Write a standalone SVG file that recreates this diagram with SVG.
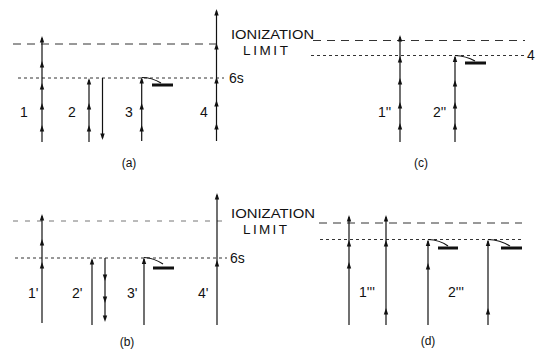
<svg xmlns="http://www.w3.org/2000/svg" xmlns:xlink="http://www.w3.org/1999/xlink" width="536" height="349" viewBox="0 0 536 349">
<style>
.ln{stroke:#111;stroke-width:1.2;fill:none}
.ion{stroke:#333;stroke-width:1;stroke-dasharray:8 6;fill:none}
.ion2{stroke:#777;stroke-width:1;stroke-dasharray:5 7;fill:none}
.lev{stroke:#333;stroke-width:1;stroke-dasharray:3 3;fill:none}
.kink{stroke:#111;stroke-width:1.2;fill:none}
.bar{fill:#111}
.lbl{font-family:"Liberation Sans",Arial,sans-serif;font-size:14px;fill:#111}
.cap{font-family:"Liberation Sans",Arial,sans-serif;font-size:12px;fill:#111;text-anchor:middle}
.big{font-family:"Liberation Sans",Arial,sans-serif;font-size:13.5px;fill:#111}
</style>
<defs>
<path id="up" d="M0,0 L-2.2,6.5 L2.2,6.5Z" fill="#111"/>
<path id="dn" d="M0,0 L-2.2,-6.5 L2.2,-6.5Z" fill="#111"/>
</defs>
<rect width="536" height="349" fill="#fff"/>

<!-- energy levels -->
<g id="levels-a">
<line class="ion" x1="13" y1="44" x2="218" y2="44"/>
<line class="lev" x1="18" y1="78" x2="224" y2="78"/>
</g>
<g id="levels-c">
<line class="ion" x1="313" y1="40.5" x2="525" y2="40.5"/>
<line class="lev" x1="311" y1="55.5" x2="524" y2="55.5"/>
</g>
<g id="levels-b">
<line class="ion2" x1="13" y1="221" x2="222" y2="221"/>
<line class="lev" x1="15" y1="258" x2="227" y2="258"/>
</g>
<g id="levels-d">
<line class="ion" x1="319" y1="223" x2="522" y2="223"/>
<line class="lev" x1="320" y1="239.5" x2="522" y2="239.5"/>
</g>

<!-- connectors: photon arrows -->
<g id="connectors">
<!-- (a) -->
<g id="arrow-1">
<line class="ln" x1="42" y1="142" x2="42" y2="38"/>
<use xlink:href="#up" x="42" y="36"/><use xlink:href="#up" x="42" y="61"/><use xlink:href="#up" x="42" y="83"/><use xlink:href="#up" x="42" y="103"/><use xlink:href="#up" x="42" y="125"/>
</g>
<g id="arrow-2">
<line class="ln" x1="89" y1="142" x2="89" y2="80"/>
<use xlink:href="#up" x="89" y="78"/><use xlink:href="#up" x="89" y="103"/><use xlink:href="#up" x="89" y="125"/>
<line class="ln" x1="102.5" y1="78" x2="102.5" y2="138"/>
<use xlink:href="#dn" x="102.5" y="140"/>
</g>
<g id="arrow-3">
<line class="ln" x1="141.7" y1="141" x2="141.7" y2="79"/>
<use xlink:href="#up" x="141.7" y="77"/><use xlink:href="#up" x="141.7" y="103"/><use xlink:href="#up" x="141.7" y="125"/>
<path class="kink" d="M141.7,77.5 Q152,77.5 161,83"/>
<rect class="bar" x="152" y="83.5" width="21" height="3"/>
</g>
<g id="arrow-4">
<line class="ln" x1="216.5" y1="141" x2="216.5" y2="11"/>
<use xlink:href="#up" x="216.5" y="9"/><use xlink:href="#up" x="216.5" y="43"/><use xlink:href="#up" x="216.5" y="77"/><use xlink:href="#up" x="216.5" y="100"/><use xlink:href="#up" x="216.5" y="123"/>
</g>
<!-- (c) -->
<g id="arrow-1pp">
<line class="ln" x1="400" y1="142" x2="400" y2="37"/>
<use xlink:href="#up" x="400" y="35"/><use xlink:href="#up" x="400" y="56"/><use xlink:href="#up" x="400" y="78"/><use xlink:href="#up" x="400" y="102"/><use xlink:href="#up" x="400" y="123"/>
</g>
<g id="arrow-2pp">
<line class="ln" x1="455" y1="142" x2="455" y2="57"/>
<use xlink:href="#up" x="455" y="55.5"/><use xlink:href="#up" x="455" y="80"/><use xlink:href="#up" x="455" y="102"/><use xlink:href="#up" x="455" y="123"/>
<path class="kink" d="M455,55.5 Q466,56 475,61"/>
<rect class="bar" x="465" y="61.5" width="21" height="3"/>
</g>
<!-- (b) -->
<g id="arrow-1p">
<line class="ln" x1="42" y1="323" x2="42" y2="216"/>
<use xlink:href="#up" x="42" y="214"/><use xlink:href="#up" x="42" y="239"/><use xlink:href="#up" x="42" y="262"/>
</g>
<g id="arrow-2p">
<line class="ln" x1="92" y1="325" x2="92" y2="260"/>
<use xlink:href="#up" x="92" y="258"/>
<line class="ln" x1="105" y1="258" x2="105" y2="319"/>
<use xlink:href="#dn" x="105" y="281"/><use xlink:href="#dn" x="105" y="303"/><use xlink:href="#dn" x="105" y="322"/>
</g>
<g id="arrow-3p">
<line class="ln" x1="144" y1="325" x2="144" y2="259"/>
<use xlink:href="#up" x="144" y="257.5"/>
<path class="kink" d="M144,257.5 Q154,258 163,264"/>
<rect class="bar" x="153" y="266.5" width="21" height="3"/>
</g>
<g id="arrow-4p">
<line class="ln" x1="217" y1="325" x2="217" y2="195"/>
<use xlink:href="#up" x="217" y="193"/><use xlink:href="#up" x="217" y="260"/>
</g>
<!-- (d) -->
<g id="arrow-1ppp-a">
<line class="ln" x1="349" y1="325" x2="349" y2="217"/>
<use xlink:href="#up" x="349" y="215"/><use xlink:href="#up" x="349" y="240"/><use xlink:href="#up" x="349" y="262"/>
</g>
<g id="arrow-1ppp-b">
<line class="ln" x1="386" y1="325" x2="386" y2="217"/>
<use xlink:href="#up" x="386" y="215"/><use xlink:href="#up" x="386" y="240"/><use xlink:href="#up" x="386" y="308"/>
</g>
<g id="arrow-2ppp-a">
<line class="ln" x1="428" y1="325" x2="428" y2="241"/>
<use xlink:href="#up" x="428" y="239.5"/><use xlink:href="#up" x="428" y="263"/>
<path class="kink" d="M428,239.5 Q440,240 448,246"/>
<rect class="bar" x="438" y="246.5" width="20" height="3"/>
</g>
<g id="arrow-2ppp-b">
<line class="ln" x1="488" y1="325" x2="488" y2="241"/>
<use xlink:href="#up" x="488" y="239.5"/><use xlink:href="#up" x="488" y="308"/>
<path class="kink" d="M488,239.5 Q500,240 510,246"/>
<rect class="bar" x="501" y="246.5" width="21" height="3"/>
</g>
</g>

<!-- labels -->
<g id="labels-a">
<text class="lbl" x="20" y="117">1</text>
<text class="lbl" x="68" y="117">2</text>
<text class="lbl" x="125" y="117">3</text>
<text class="lbl" x="200" y="117">4</text>
<text class="lbl" x="229" y="83">6s</text>
<text class="big" x="231" y="39" textLength="83" lengthAdjust="spacingAndGlyphs">IONIZATION</text>
<text class="big" x="243" y="54.5" textLength="45" lengthAdjust="spacing">LIMIT</text>
<text class="cap" x="129" y="167">(a)</text>
</g>
<g id="labels-c">
<text class="lbl" x="378" y="117">1''</text>
<text class="lbl" x="433" y="117">2''</text>
<text class="lbl" x="527" y="60">4</text>
<text class="cap" x="421" y="167">(c)</text>
</g>
<g id="labels-b">
<text class="lbl" x="28" y="298">1'</text>
<text class="lbl" x="72" y="298">2'</text>
<text class="lbl" x="127" y="298">3'</text>
<text class="lbl" x="198" y="298">4'</text>
<text class="lbl" x="230" y="263">6s</text>
<text class="big" x="231" y="218" textLength="84" lengthAdjust="spacingAndGlyphs">IONIZATION</text>
<text class="big" x="243" y="233.5" textLength="44" lengthAdjust="spacing">LIMIT</text>
<text class="cap" x="127" y="346">(b)</text>
</g>
<g id="labels-d">
<text class="lbl" x="359" y="297">1'''</text>
<text class="lbl" x="448" y="297">2'''</text>
<text class="cap" x="428" y="345">(d)</text>
</g>
</svg>
